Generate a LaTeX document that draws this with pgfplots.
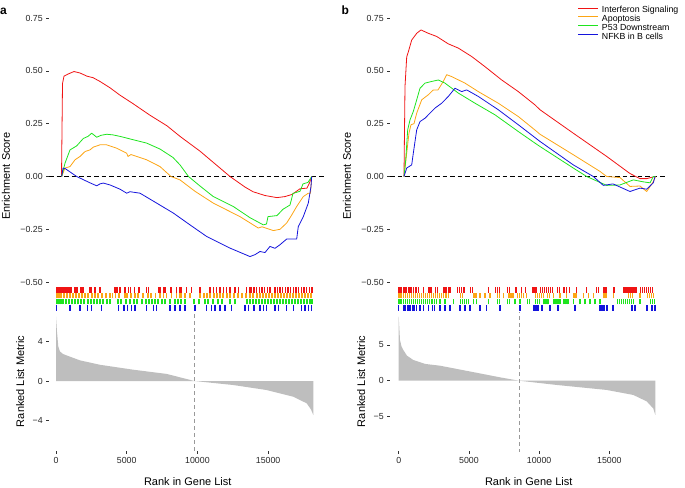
\documentclass[border=0pt]{standalone}
\usepackage{fontspec}
\setmainfont{Liberation Sans}
\usepackage{pgfplots}
\pgfplotsset{compat=1.18}
\definecolor{cred}{RGB}{240,20,20}
\definecolor{corange}{RGB}{252,165,20}
\definecolor{cgreen}{RGB}{30,228,30}
\definecolor{cblue}{RGB}{20,20,220}
\definecolor{cgray}{RGB}{190,190,190}
\pgfplotsset{
 gsea/.style={scale only axis, anchor=north west, axis line style={draw=none}, tick align=outside,
   major tick length=2.75pt, tick style={black!80, line width=0.55pt},
   ticklabel style={font=\fontsize{8.8}{10}\selectfont, text=black!85},
   label style={font=\fontsize{11}{13}\selectfont, text=black},
   scaled x ticks=false, scaled y ticks=false,
   /pgf/number format/assume math mode=true, xtick pos=left, ytick pos=left},
 es/.style={gsea, width=277.5pt, height=308pt, ymin=-0.6463, ymax=0.8120, xtick=\empty,
   ytick={-0.5,-0.25,0,0.25,0.5,0.75}, yticklabels={−0.50,−0.25,0.00,0.25,0.50,0.75},
   ylabel={Enrichment Score}, ylabel style={at={(axis description cs:-0.155,0.445)}, anchor=center}},
 rl/.style={gsea, width=277.5pt, height=139pt, xtick={0,5000,10000,15000}, xticklabels={0,5000,10000,15000},
   xlabel={Rank in Gene List}, xlabel style={at={(axis description cs:0.5,-0.221)}, anchor=center},
   ylabel={Ranked List Metric}, ylabel style={at={(axis description cs:-0.104,0.5)}, anchor=center}},
 esline/.style={line width=0.8pt, line join=round},
 rug/.style={line width=1.15pt, quiver={u={0}, v={0.0265}}, forget plot},
 zero/.style={black, dash pattern=on 4.5pt off 3pt, line width=0.9pt, forget plot},
 mid/.style={black!40, dash pattern=on 4pt off 3pt, line width=0.7pt, forget plot},
}
\begin{document}
\begin{tikzpicture}
\path[use as bounding box] (0pt,0pt) rectangle (685pt,-487pt);
\node[anchor=base west, inner sep=0pt] at (0pt,-15pt) {\fontsize{12}{14}\selectfont\bfseries a};
\node[anchor=base west, inner sep=0pt] at (341.5pt,-15pt) {\fontsize{12}{14}\selectfont\bfseries b};

% ---------------- Panel a: enrichment score ----------------
\begin{axis}[es, at={(49pt,-5pt)}, xmin=-495, xmax=19125]
\addplot[zero] coordinates {(-495,0) (19125,0)};
\addplot[esline, cred] coordinates {(389,0)(460,0.44)(566,0.475)(848,0.485)(1273,0.497)(1697,0.49)(2192,0.475)(2616,0.468)(3111,0.45)(3818,0.42)(4525,0.385)(5444,0.345)(6646,0.29)(7848,0.24)(8767,0.19)(10181,0.12)(11241,0.06)(12302,0)(13363,-0.05)(13928,-0.072)(14776,-0.09)(15625,-0.1)(16190,-0.095)(16685,-0.085)(17251,-0.058)(17746,-0.055)(17923,-0.03)(18078,0)};
\addplot[esline, corange] coordinates {(403,0)(636,0.04)(990,0.047)(1343,0.079)(1697,0.095)(2050,0.118)(2404,0.126)(2637,0.139)(3111,0.15)(3584,0.15)(4291,0.134)(4998,0.11)(5090,0.095)(5303,0.104)(6413,0.079)(7353,0.047)(8131,0)(8767,-0.016)(9827,-0.07)(11121,-0.126)(13009,-0.19)(14303,-0.244)(14564,-0.238)(15363,-0.256)(15837,-0.25)(16311,-0.22)(16685,-0.18)(17017,-0.142)(17484,-0.095)(17838,-0.079)(17993,-0.079)(18078,0)};
\addplot[esline, cgreen] coordinates {(403,0)(636,0.063)(990,0.126)(1463,0.145)(1930,0.18)(2262,0.19)(2524,0.205)(2877,0.186)(3182,0.195)(3584,0.2)(4030,0.197)(4525,0.19)(5465,0.174)(6413,0.158)(7353,0.13)(8272,0.09)(8767,0.055)(9368,0)(10181,-0.045)(11121,-0.095)(12535,-0.142)(13716,-0.195)(14656,-0.229)(14882,-0.225)(14988,-0.19)(15625,-0.185)(16049,-0.155)(16544,-0.135)(16756,-0.08)(17251,-0.07)(17463,-0.035)(17816,-0.028)(18078,0)};
\addplot[esline, cblue] coordinates {(403,0)(495,0.04)(636,0.038)(1463,0)(2404,-0.03)(2877,-0.044)(3111,-0.035)(3344,-0.031)(3818,-0.04)(4525,-0.06)(4998,-0.079)(5232,-0.072)(5939,-0.079)(7119,-0.126)(8293,-0.173)(9474,-0.229)(10654,-0.284)(12302,-0.339)(13716,-0.379)(14069,-0.37)(14423,-0.355)(14776,-0.36)(15130,-0.331)(15483,-0.34)(15837,-0.323)(16311,-0.296)(17017,-0.296)(17130,-0.237)(17484,-0.19)(17838,-0.126)(18029,-0.047)(18078,0)};
% rug rows
\addplot[rug, cred] coordinates {(10,-0.5507)(71,-0.5507)(212,-0.5507)(354,-0.5507)(495,-0.5507)(636,-0.5507)(778,-0.5507)(919,-0.5507)(1061,-0.5507)(1343,-0.5507)(1485,-0.5507)(1768,-0.5507)(1909,-0.5507)(2404,-0.5507)(2524,-0.5507)(2757,-0.5507)(3111,-0.5507)(4171,-0.5507)(4313,-0.5507)(4525,-0.5507)(4878,-0.5507)(5112,-0.5507)(5253,-0.5507)(5536,-0.5507)(5868,-0.5507)(6413,-0.5507)(6526,-0.5507)(7233,-0.5507)(7353,-0.5507)(7586,-0.5507)(7706,-0.5507)(8131,-0.5507)(8533,-0.5507)(8767,-0.5507)(8887,-0.5507)(9240,-0.5507)(9594,-0.5507)(10181,-0.5507)(10888,-0.5507)(11121,-0.5507)(11361,-0.5507)(11595,-0.5507)(11828,-0.5507)(12068,-0.5507)(12302,-0.5507)(12655,-0.5507)(12889,-0.5507)(13482,-0.5507)(13716,-0.5507)(13836,-0.5507)(13999,-0.5507)(14189,-0.5507)(14373,-0.5507)(14564,-0.5507)(14755,-0.5507)(14939,-0.5507)(15130,-0.5507)(15483,-0.5507)(15646,-0.5507)(15837,-0.5507)(16028,-0.5507)(16211,-0.5507)(16402,-0.5507)(16593,-0.5507)(16777,-0.5507)(16968,-0.5507)(17159,-0.5507)(17343,-0.5507)(17534,-0.5507)(17724,-0.5507)(17908,-0.5507)(18099,-0.5507)};
\addplot[rug, corange] coordinates {(10,-0.5767)(71,-0.5767)(212,-0.5767)(354,-0.5767)(566,-0.5767)(778,-0.5767)(990,-0.5767)(1202,-0.5767)(1414,-0.5767)(1626,-0.5767)(1838,-0.5767)(2050,-0.5767)(2262,-0.5767)(2545,-0.5767)(2757,-0.5767)(2969,-0.5767)(3252,-0.5767)(3535,-0.5767)(3818,-0.5767)(3980,-0.5767)(4221,-0.5767)(4454,-0.5767)(4878,-0.5767)(5020,-0.5767)(5303,-0.5767)(5585,-0.5767)(5797,-0.5767)(6151,-0.5767)(6504,-0.5767)(6717,-0.5767)(7049,-0.5767)(7353,-0.5767)(7586,-0.5767)(7826,-0.5767)(8180,-0.5767)(8533,-0.5767)(8767,-0.5767)(8838,-0.5767)(9120,-0.5767)(9474,-0.5767)(10181,-0.5767)(10464,-0.5767)(10676,-0.5767)(10888,-0.5767)(11171,-0.5767)(11383,-0.5767)(11595,-0.5767)(11807,-0.5767)(12090,-0.5767)(12302,-0.5767)(12585,-0.5767)(12867,-0.5767)(13150,-0.5767)(13433,-0.5767)(13716,-0.5767)(13928,-0.5767)(14210,-0.5767)(14423,-0.5767)(14635,-0.5767)(14847,-0.5767)(15059,-0.5767)(15271,-0.5767)(15483,-0.5767)(15695,-0.5767)(15908,-0.5767)(16120,-0.5767)(16332,-0.5767)(16544,-0.5767)(16756,-0.5767)(16968,-0.5767)(17180,-0.5767)(17392,-0.5767)(17604,-0.5767)(17816,-0.5767)(18029,-0.5767)};
\addplot[rug, cgreen] coordinates {(10,-0.6051)(71,-0.6051)(212,-0.6051)(354,-0.6051)(495,-0.6051)(707,-0.6051)(919,-0.6051)(1131,-0.6051)(1343,-0.6051)(1555,-0.6051)(1768,-0.6051)(1980,-0.6051)(2262,-0.6051)(2475,-0.6051)(2687,-0.6051)(2899,-0.6051)(3111,-0.6051)(3323,-0.6051)(3606,-0.6051)(3818,-0.6051)(4383,-0.6051)(4596,-0.6051)(4949,-0.6051)(5232,-0.6051)(5515,-0.6051)(5727,-0.6051)(6080,-0.6051)(6363,-0.6051)(6575,-0.6051)(6787,-0.6051)(6999,-0.6051)(7212,-0.6051)(7494,-0.6051)(7706,-0.6051)(8060,-0.6051)(8413,-0.6051)(8625,-0.6051)(8838,-0.6051)(9120,-0.6051)(9757,-0.6051)(10110,-0.6051)(10534,-0.6051)(10746,-0.6051)(11100,-0.6051)(11453,-0.6051)(11736,-0.6051)(12302,-0.6051)(12655,-0.6051)(13503,-0.6051)(13716,-0.6051)(13928,-0.6051)(14140,-0.6051)(14352,-0.6051)(14564,-0.6051)(14776,-0.6051)(14988,-0.6051)(15200,-0.6051)(15413,-0.6051)(15625,-0.6051)(15837,-0.6051)(16049,-0.6051)(16261,-0.6051)(16473,-0.6051)(16685,-0.6051)(16897,-0.6051)(17109,-0.6051)(17322,-0.6051)(17534,-0.6051)(17746,-0.6051)(17958,-0.6051)(18099,-0.6051)};
\addplot[rug, cblue] coordinates {(10,-0.6349)(990,-0.6349)(1697,-0.6349)(2216,-0.6349)(2522,-0.6349)(3229,-0.6349)(4407,-0.6349)(4808,-0.6349)(5068,-0.6349)(5350,-0.6349)(5585,-0.6349)(6410,-0.6349)(6882,-0.6349)(7117,-0.6349)(8060,-0.6349)(8414,-0.6349)(8767,-0.6349)(9120,-0.6349)(9828,-0.6349)(10653,-0.6349)(11006,-0.6349)(11242,-0.6349)(11595,-0.6349)(11949,-0.6349)(12420,-0.6349)(13358,-0.6349)(13599,-0.6349)(13999,-0.6349)(14423,-0.6349)(14659,-0.6349)(14895,-0.6349)(15484,-0.6349)(15719,-0.6349)(16308,-0.6349)(16780,-0.6349)(17370,-0.6349)(17605,-0.6349)(17841,-0.6349)(18076,-0.6349)};
\end{axis}

% ---------------- Panel a: ranked list metric ----------------
\begin{axis}[rl, at={(49pt,-312pt)}, xmin=-495, xmax=19125, ymin=-7.12, ymax=7.02, ytick={-4,0,4}, yticklabels={−4,0,4}]
\addplot[fill=cgray, draw=none] coordinates {(0,0)(0,6.54)(71,5.0)(163,3.5)(283,3.0)(495,2.75)(756,2.6)(1697,2.1)(3111,1.65)(5465,1.15)(7826,0.72)(9790,0)(12535,-0.41)(14896,-0.92)(16777,-1.6)(17725,-2.27)(18029,-2.9)(18192,-3.46)(18192,0)} \closedcycle;
\addplot[mid] coordinates {(9790,7.5) (9790,-7.5)};
\end{axis}

% ---------------- Panel b: enrichment score ----------------
\begin{axis}[es, at={(390pt,-5pt)}, xmin=-619, xmax=19139,
  legend style={at={(axis description cs:0.676,0.996)}, anchor=north west, draw=none, fill=none,
    font=\fontsize{8.8}{8.8}\selectfont, inner sep=0pt, outer sep=0pt, row sep=0pt, column sep=3.5pt,
    nodes={inner sep=0pt, text height=6.4pt, text depth=2.4pt}},
  legend cell align=left,
  legend image code/.code={\draw[#1, line width=0.9pt] (0pt,2.6pt) -- (20pt,2.6pt);}]
\addplot[zero] coordinates {(-619,0) (19139,0)};
\addplot[esline, cred] coordinates {(377,0)(449,0.426)(570,0.566)(684,0.59)(926,0.646)(1282,0.678)(1588,0.694)(2108,0.678)(2706,0.663)(3532,0.628)(4244,0.608)(5198,0.568)(6145,0.52)(7334,0.457)(8516,0.402)(9705,0.339)(10061,0.316)(12432,0.205)(14810,0.095)(16469,0.014)(17181,-0.01)(17658,-0.01)(18249,0)};
\addlegendentry{Interferon Signaling}
\addplot[esline, corange] coordinates {(377,0)(570,0.11)(733,0.206)(876,0.245)(1089,0.25)(1282,0.3)(1638,0.363)(2108,0.387)(2464,0.41)(2798,0.41)(3176,0.45)(3418,0.482)(3774,0.473)(4721,0.442)(5668,0.402)(7092,0.347)(8516,0.284)(9705,0.22)(10061,0.2)(12432,0.103)(14333,0.024)(14810,0)(15756,-0.005)(16469,-0.047)(17181,-0.045)(17658,-0.071)(18127,-0.024)(18290,0)};
\addlegendentry{Apoptosis}
\addplot[esline, cgreen] coordinates {(377,0)(498,0.077)(641,0.221)(805,0.268)(1040,0.308)(1282,0.363)(1517,0.418)(1873,0.442)(2350,0.45)(2820,0.457)(3297,0.442)(4244,0.395)(5433,0.347)(6857,0.292)(8516,0.213)(9705,0.158)(10061,0.142)(12432,0.04)(13386,0)(14810,-0.042)(15756,-0.04)(16704,-0.016)(17394,-0.025)(17893,-0.03)(18127,0)(18249,0)};
\addlegendentry{P53 Downstream}
\addplot[esline, cblue] coordinates {(377,0)(570,0.04)(926,0.055)(1040,0.11)(1282,0.221)(1517,0.26)(1873,0.276)(2229,0.3)(2585,0.324)(3062,0.347)(3532,0.379)(4009,0.418)(4486,0.402)(4842,0.41)(5668,0.379)(7092,0.316)(8516,0.245)(10061,0.166)(12432,0.055)(13856,0)(14568,-0.042)(15258,-0.035)(16469,-0.071)(17181,-0.055)(17658,-0.06)(18127,-0.03)(18249,0)};
\addlegendentry{NFKB in B cells}
\addplot[rug, cred] coordinates {(4,-0.5507)(93,-0.5507)(212,-0.5507)(330,-0.5507)(449,-0.5507)(568,-0.5507)(686,-0.5507)(805,-0.5507)(924,-0.5507)(1042,-0.5507)(1232,-0.5507)(1398,-0.5507)(1754,-0.5507)(2110,-0.5507)(2229,-0.5507)(2348,-0.5507)(2633,-0.5507)(2775,-0.5507)(3226,-0.5507)(3368,-0.5507)(3534,-0.5507)(3653,-0.5507)(4175,-0.5507)(4317,-0.5507)(4483,-0.5507)(4650,-0.5507)(5124,-0.5507)(5267,-0.5507)(6383,-0.5507)(6905,-0.5507)(7023,-0.5507)(7165,-0.5507)(7735,-0.5507)(7877,-0.5507)(8305,-0.5507)(8399,-0.5507)(8755,-0.5507)(9017,-0.5507)(9515,-0.5507)(9634,-0.5507)(9776,-0.5507)(10108,-0.5507)(10251,-0.5507)(10393,-0.5507)(10535,-0.5507)(10678,-0.5507)(10820,-0.5507)(10963,-0.5507)(11295,-0.5507)(11437,-0.5507)(11770,-0.5507)(11959,-0.5507)(12149,-0.5507)(12671,-0.5507)(13383,-0.5507)(14095,-0.5507)(14214,-0.5507)(14618,-0.5507)(14760,-0.5507)(15330,-0.5507)(16042,-0.5507)(16184,-0.5507)(16326,-0.5507)(16469,-0.5507)(16611,-0.5507)(16754,-0.5507)(16896,-0.5507)(17228,-0.5507)(17371,-0.5507)(17513,-0.5507)(17655,-0.5507)(17798,-0.5507)(17940,-0.5507)(18083,-0.5507)};
\addplot[rug, corange] coordinates {(4,-0.5767)(93,-0.5767)(212,-0.5767)(330,-0.5767)(473,-0.5767)(615,-0.5767)(757,-0.5767)(900,-0.5767)(1042,-0.5767)(1185,-0.5767)(1327,-0.5767)(1469,-0.5767)(1612,-0.5767)(1754,-0.5767)(1897,-0.5767)(2039,-0.5767)(2181,-0.5767)(2324,-0.5767)(2466,-0.5767)(2608,-0.5767)(2751,-0.5767)(2893,-0.5767)(3036,-0.5767)(3178,-0.5767)(3368,-0.5767)(3534,-0.5767)(4412,-0.5767)(4555,-0.5767)(5362,-0.5767)(5504,-0.5767)(5789,-0.5767)(6145,-0.5767)(6501,-0.5767)(7023,-0.5767)(7165,-0.5767)(7450,-0.5767)(7806,-0.5767)(7925,-0.5767)(8067,-0.5767)(8162,-0.5767)(8447,-0.5767)(8589,-0.5767)(8731,-0.5767)(8874,-0.5767)(9111,-0.5767)(9752,-0.5767)(9871,-0.5767)(10013,-0.5767)(10156,-0.5767)(10298,-0.5767)(10583,-0.5767)(10725,-0.5767)(11010,-0.5767)(11485,-0.5767)(11959,-0.5767)(12481,-0.5767)(12624,-0.5767)(13146,-0.5767)(13503,-0.5767)(13859,-0.5767)(14618,-0.5767)(14760,-0.5767)(15282,-0.5767)(16374,-0.5767)(16516,-0.5767)(16659,-0.5767)(17181,-0.5767)(17703,-0.5767)(17845,-0.5767)(17988,-0.5767)(18130,-0.5767)};
\addplot[rug, cgreen] coordinates {(4,-0.6051)(93,-0.6051)(212,-0.6051)(330,-0.6051)(473,-0.6051)(615,-0.6051)(757,-0.6051)(900,-0.6051)(1042,-0.6051)(1185,-0.6051)(1327,-0.6051)(1469,-0.6051)(1612,-0.6051)(1754,-0.6051)(1897,-0.6051)(2039,-0.6051)(2181,-0.6051)(2371,-0.6051)(2561,-0.6051)(2704,-0.6051)(2941,-0.6051)(3297,-0.6051)(3890,-0.6051)(4412,-0.6051)(4555,-0.6051)(4697,-0.6051)(4840,-0.6051)(4982,-0.6051)(5314,-0.6051)(5552,-0.6051)(6383,-0.6051)(7023,-0.6051)(7165,-0.6051)(7735,-0.6051)(7877,-0.6051)(8281,-0.6051)(8637,-0.6051)(9159,-0.6051)(9301,-0.6051)(9728,-0.6051)(9871,-0.6051)(10013,-0.6051)(10345,-0.6051)(10488,-0.6051)(10630,-0.6051)(11058,-0.6051)(11200,-0.6051)(11342,-0.6051)(11485,-0.6051)(11770,-0.6051)(11912,-0.6051)(12054,-0.6051)(12434,-0.6051)(12909,-0.6051)(13265,-0.6051)(13621,-0.6051)(13977,-0.6051)(14333,-0.6051)(15567,-0.6051)(15709,-0.6051)(15852,-0.6051)(15994,-0.6051)(16136,-0.6051)(16279,-0.6051)(16421,-0.6051)(16564,-0.6051)(16706,-0.6051)(17181,-0.6051)(17940,-0.6051)(18083,-0.6051)(18225,-0.6051)};
\addplot[rug, cblue] coordinates {(4,-0.6349)(378,-0.6349)(496,-0.6349)(615,-0.6349)(734,-0.6349)(852,-0.6349)(971,-0.6349)(1090,-0.6349)(1280,-0.6349)(1517,-0.6349)(1754,-0.6349)(2110,-0.6349)(2395,-0.6349)(2537,-0.6349)(2941,-0.6349)(3297,-0.6349)(3653,-0.6349)(4365,-0.6349)(4721,-0.6349)(5077,-0.6349)(5789,-0.6349)(6264,-0.6349)(7213,-0.6349)(8637,-0.6349)(9634,-0.6349)(9776,-0.6349)(9919,-0.6349)(10203,-0.6349)(10773,-0.6349)(11342,-0.6349)(12553,-0.6349)(14333,-0.6349)(14475,-0.6349)(14618,-0.6349)(14831,-0.6349)(15258,-0.6349)(16611,-0.6349)(16825,-0.6349)(17679,-0.6349)(18035,-0.6349)(18249,-0.6349)};
\end{axis}

% ---------------- Panel b: ranked list metric ----------------
\begin{axis}[rl, at={(390pt,-312pt)}, xmin=-619, xmax=19139, ymin=-9.85, ymax=9.62, ytick={-5,0,5}, yticklabels={−5,0,5}]
\addplot[fill=cgray, draw=none] coordinates {(0,0)(0,9.0)(57,7.0)(93,5.7)(199,4.8)(328,4.3)(591,3.5)(1040,2.9)(1873,2.35)(2941,2.1)(5312,1.2)(7213,0.47)(8565,0)(11250,-0.6)(14810,-1.3)(16704,-2.0)(17658,-2.9)(18127,-3.9)(18270,-4.8)(18270,0)} \closedcycle;
\addplot[mid] coordinates {(8565,10) (8565,-10)};
\end{axis}
\end{tikzpicture}
\end{document}
